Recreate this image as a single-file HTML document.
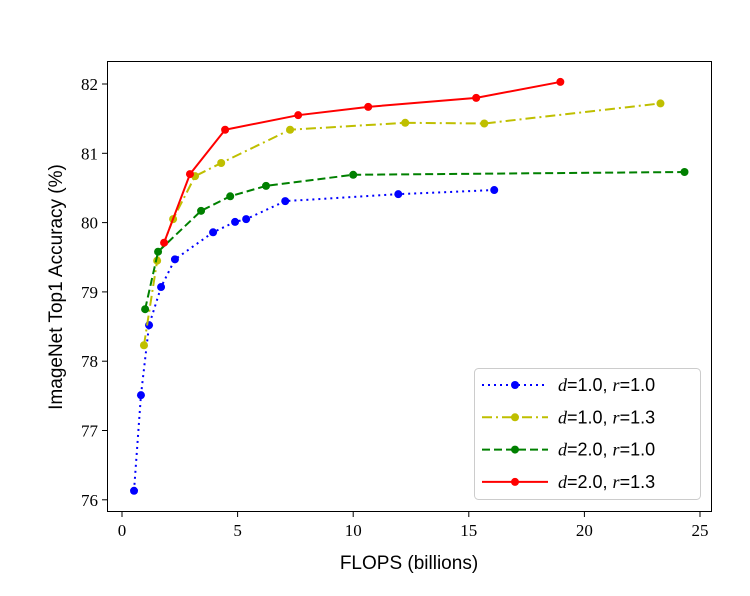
<!DOCTYPE html>
<html><head><meta charset="utf-8"><style>
body{margin:0;background:#fff}
svg{display:block}
</style></head><body>
<svg id="chart" width="750" height="596" xmlns="http://www.w3.org/2000/svg"></svg>
<script>
const xTicks=[0,5,10,15,20,25];
const yTicks=[76,77,78,79,80,81,82];
const s1x=[0.52,0.82,1.17,1.69,2.29,3.94,4.89,5.37,7.06,11.95,16.1];
const s1y=[76.13,77.51,78.52,79.07,79.47,79.86,80.01,80.05,80.31,80.41,80.47];
const s2x=[0.95,1.52,2.21,3.16,4.29,7.27,12.25,15.67,23.29];
const s2y=[78.23,79.45,80.05,80.67,80.86,81.34,81.44,81.43,81.72];
const s3x=[1.0,1.56,3.42,4.68,6.23,10.0,24.33];
const s3y=[78.75,79.58,80.17,80.38,80.53,80.69,80.73];
const s4x=[1.82,2.94,4.46,7.62,10.65,15.32,18.96];
const s4y=[79.71,80.70,81.34,81.55,81.67,81.80,82.03];
const seriesNames=["d=1.0, r=1.0","d=1.0, r=1.3","d=2.0, r=1.0","d=2.0, r=1.3"];

const NS="http://www.w3.org/2000/svg";
const svg=document.getElementById('chart');
const X=v=>122+v*23.12;
const Y=v=>84+(82-v)*69.3;
function el(t,a,p){const e=document.createElementNS(NS,t);for(const k in a)e.setAttribute(k,a[k]);(p||svg).appendChild(e);return e;}

const frame=el('rect',{x:107.5,y:61.5,width:604,height:450,fill:'none',stroke:'#000','stroke-width':1});



xTicks.forEach(t=>{
  const l=el('line',{x1:X(t),x2:X(t),y1:512,y2:517,stroke:'#000'});
  
  
  const tx=el('text',{x:X(t),y:536,'text-anchor':'middle','font-family':'Liberation Serif, serif','font-size':17});
  tx.textContent=t;
  
  
});
yTicks.forEach(t=>{
  const l=el('line',{x1:102,x2:107,y1:Y(t),y2:Y(t),stroke:'#000'});
  
  
  const tx=el('text',{x:98,y:Y(t)+6,'text-anchor':'end','font-family':'Liberation Serif, serif','font-size':17});
  tx.textContent=t;
  
  
});
const xt=el('text',{x:409,y:569,'text-anchor':'middle','font-family':'Liberation Sans, sans-serif','font-size':19});
xt.textContent='FLOPS (billions)';


const yt=el('text',{x:0,y:0,'text-anchor':'middle','font-family':'Liberation Sans, sans-serif','font-size':19,transform:'translate(62,287) rotate(-90)'});
yt.textContent='ImageNet Top1 Accuracy (%)';



const styles=[
 {c:'#0000ff',d:'2,4',n:'series-d1-r1'},
 {c:'#bfbf00',d:'10,4,2,4',n:'series-d1-r13'},
 {c:'#008000',d:'8,4',n:'series-d2-r1'},
 {c:'#ff0000',d:'',n:'series-d2-r13'}];
const data=[[s1x,s1y],[s2x,s2y],[s3x,s3y],[s4x,s4y]];
data.forEach((s,i)=>{
  const st=styles[i];
  const g=el('g',{});
  
  
  el('polyline',{points:s[0].map((x,j)=>X(x)+','+Y(s[1][j])).join(' '),fill:'none',stroke:st.c,'stroke-width':2,'stroke-dasharray':st.d},g);
  s[0].forEach((x,j)=>{
    const c=el('circle',{cx:X(x),cy:Y(s[1][j]),r:4,fill:st.c},g);
    
    
  });
});

const lg=el('g',{});


el('rect',{x:474.5,y:368.5,width:226,height:131,rx:4,fill:'#fff',stroke:'#ccc'},lg);
styles.forEach((st,i)=>{
  const y=385+i*32.3;
  const g=el('g',{},lg);
  
  
  el('line',{x1:482,x2:548,y1:y,y2:y,stroke:st.c,'stroke-width':2,'stroke-dasharray':st.d},g);
  el('circle',{cx:515,cy:y,r:4,fill:st.c},g);
  const parts=seriesNames[i].split(', ');
  const t=el('text',{x:558,y:y+6,'font-family':'Liberation Sans, sans-serif','font-size':18},g);
  t.innerHTML='<tspan font-family="Liberation Serif, serif" font-style="italic">d</tspan>'+parts[0].slice(1)+', <tspan font-family="Liberation Serif, serif" font-style="italic">r</tspan>'+parts[1].slice(1);
});
</script>
</body></html>
